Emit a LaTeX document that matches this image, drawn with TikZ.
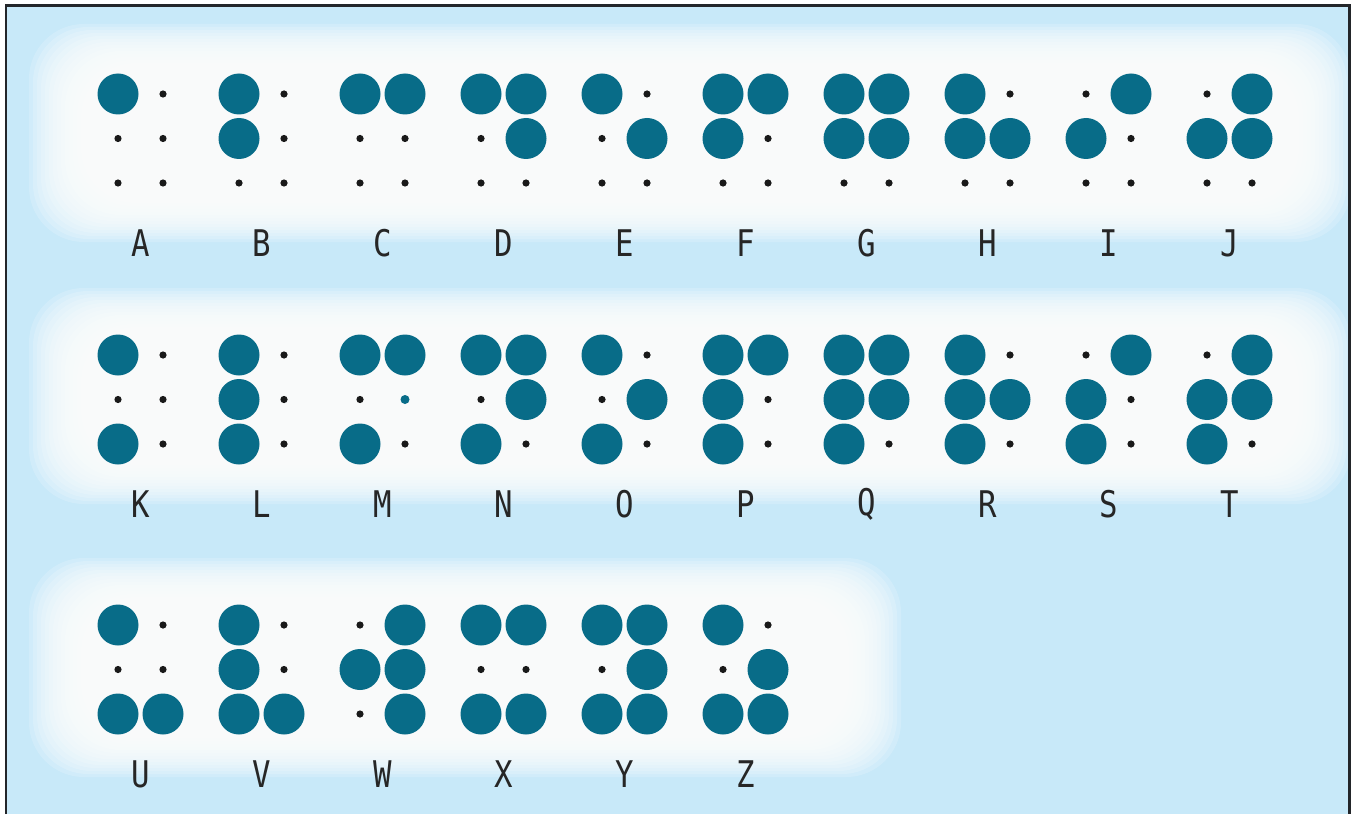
\documentclass[tikz,border=0pt]{standalone}
\usepackage{fontspec}
\usepackage{xcolor}
\usepackage{tikz}
\newfontfamily\labelfont{DejaVu Sans Mono}
\definecolor{brailleteal}{RGB}{8,108,136}
\definecolor{chartblue}{RGB}{200,233,249}
\definecolor{framegrey}{RGB}{35,38,42}
% soft white band behind a row of cells
\newcommand{\glowband}[4]{%
  \foreach \g in {0,...,13}
    \fill[white, opacity=0.18, rounded corners=1.1cm]
      (#1-56+4*\g,#2-42+3*\g) rectangle (#3+56-4*\g,#4+42-3*\g);
}

\begin{document}
\begin{tikzpicture}[
  x=0.02cm, y=-0.02cm,
  raised/.style={fill=brailleteal},
  flat/.style={fill=black!90},
  letter/.style={font=\labelfont\fontsize{19}{19}\selectfont, inner sep=0pt, text=black!85}
]
\useasboundingbox (0,0) rectangle (1354,814);
\fill[white] (0,0) rectangle (1354,814);
\fill[chartblue] (6,6) rectangle (1349,814);
\glowband{85}{66}{1295}{200}
\glowband{85}{330}{1295}{462}
\glowband{85}{600}{845}{735}
\draw[framegrey, line width=0.06cm] (6,814) -- (6,6) -- (1349,6) -- (1349,814);

% cells: letter / column / top row y / raised dots
\foreach \ch/\col/\top/\set in {
  A/0/94/{1}, B/1/94/{1,2}, C/2/94/{1,4}, D/3/94/{1,4,5}, E/4/94/{1,5},
  F/5/94/{1,2,4}, G/6/94/{1,2,4,5}, H/7/94/{1,2,5}, I/8/94/{2,4}, J/9/94/{2,4,5},
  K/0/355/{1,3}, L/1/355/{1,2,3}, M/2/355/{1,3,4}, N/3/355/{1,3,4,5}, O/4/355/{1,3,5},
  P/5/355/{1,2,3,4}, Q/6/355/{1,2,3,4,5}, R/7/355/{1,2,3,5}, S/8/355/{2,3,4}, T/9/355/{2,3,4,5},
  U/0/625/{1,3,6}, V/1/625/{1,2,3,6}, W/2/625/{2,4,5,6}, X/3/625/{1,3,4,6},
  Y/4/625/{1,3,4,5,6}, Z/5/625/{1,3,5,6}} {
  \pgfmathsetmacro\xl{118+121*\col}
  \foreach \k in {1,...,6} {
    \pgfmathtruncatemacro\c{(\k-1)/3}
    \pgfmathtruncatemacro\r{mod(\k-1,3)}
    \fill[flat] (\xl+45*\c,\top+44.5*\r) circle[radius=3.6];
  }
  \foreach \k in \set {
    \pgfmathtruncatemacro\c{(\k-1)/3}
    \pgfmathtruncatemacro\r{mod(\k-1,3)}
    \fill[raised] (\xl+45*\c,\top+44.5*\r) circle[radius=20.5];
  }
  \node[letter] (\ch) at (\xl+23,\top+149) {\scalebox{0.92}[1.1]{\ch}};
}
% the print shows a small teal dot in M
\fill[raised] (405,399.5) circle[radius=4.5];
\end{tikzpicture}
\end{document}
